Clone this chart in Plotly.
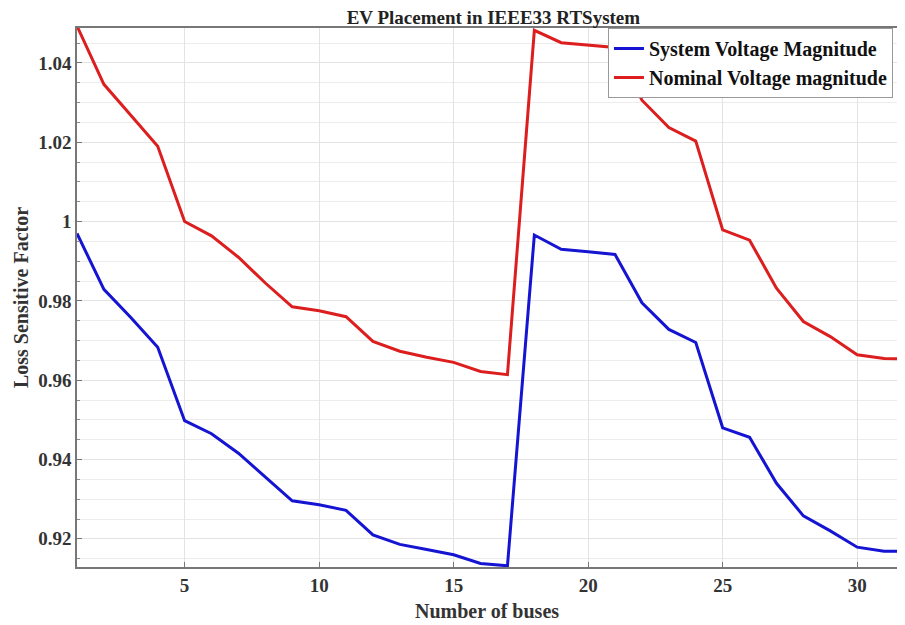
import plotly.graph_objects as go

buses = list(range(1, 33))
system_voltage = [0.997, 0.9829, 0.9758, 0.9683, 0.9498, 0.9465, 0.9416, 0.9357, 0.9296, 0.9286,
                  0.9272, 0.921, 0.9186, 0.9173, 0.916, 0.9138, 0.9132, 0.9966, 0.993, 0.9924,
                  0.9917, 0.9795, 0.9728, 0.9695, 0.948, 0.9456, 0.934, 0.9258, 0.922, 0.9179,
                  0.9169, 0.9168]
nominal_voltage = [1.0493, 1.0346, 1.0268, 1.019, 1.000, 0.9964, 0.991, 0.9845, 0.9785, 0.9775,
                   0.976, 0.9698, 0.9673, 0.9658, 0.9645, 0.9622, 0.9614, 1.0482, 1.0451, 1.0445,
                   1.0439, 1.0306, 1.0237, 1.0203, 0.9979, 0.9953, 0.9832, 0.9748, 0.971, 0.9664,
                   0.9655, 0.9653]
x_ticks = [5, 10, 15, 20, 25, 30]
y_ticks = [0.92, 0.94, 0.96, 0.98, 1.0, 1.02, 1.04]
y_tick_text = ["0.92", "0.94", "0.96", "0.98", "1", "1.02", "1.04"]

font_family = "Liberation Serif"

fig = go.Figure()
fig.add_trace(go.Scatter(x=buses, y=system_voltage, mode="lines", name="<b>System Voltage Magnitude</b>",
                         line=dict(color="rgb(20,20,210)", width=3)))
fig.add_trace(go.Scatter(x=buses, y=nominal_voltage, mode="lines", name="<b>Nominal Voltage magnitude</b>",
                         line=dict(color="rgb(220,30,30)", width=3)))

fig.update_layout(
    width=889, height=617,
    margin=dict(l=69, r=0, t=20, b=58, autoexpand=False),
    paper_bgcolor="white", plot_bgcolor="white",
    font=dict(family=font_family, color="#333333"),
    title=dict(text="<b>EV Placement in IEEE33 RTSystem</b>", x=0.546, xanchor="center",
               y=0.985, yanchor="middle", font=dict(size=19, color="#222222", family=font_family)),
    showlegend=True,
    legend=dict(x=0.6475, y=1.0, xanchor="left", yanchor="top",
                bgcolor="white", bordercolor="#999999", borderwidth=1,
                font=dict(size=20, color="#111111", family=font_family),
                tracegroupgap=0, itemwidth=30),
)
fig.update_xaxes(
    range=[1, 31.48], tickvals=x_ticks, ticktext=[f"<b>{v}</b>" for v in x_ticks],
    tickfont=dict(size=19, color="#333333"),
    showgrid=True, gridcolor="#e3e3e3", gridwidth=1,
    showline=True, linecolor="#777777", linewidth=1.5, mirror=True,
    ticks="inside", ticklen=5, tickcolor="#777777", zeroline=False,
    title=dict(text="<b>Number of buses</b>", font=dict(size=20, color="#333333"), standoff=9),
)
fig.update_yaxes(
    range=[0.9129, 1.0488], tickvals=y_ticks, ticktext=[f"<b>{t}</b>" for t in y_tick_text],
    tickfont=dict(size=19, color="#333333"),
    showgrid=True, gridcolor="#e3e3e3", gridwidth=1,
    minor=dict(dtick=0.005, tick0=0.92, showgrid=True, gridcolor="#ececec", ticks="inside",
               ticklen=3, tickcolor="#888888"),
    showline=True, linecolor="#777777", linewidth=1.5, mirror=True,
    ticks="inside", ticklen=5, tickcolor="#777777", zeroline=False,
    title=dict(text="<b>Loss Sensitive Factor</b>", font=dict(size=20, color="#333333"), standoff=4),
)

fig.write_html("out.html")
